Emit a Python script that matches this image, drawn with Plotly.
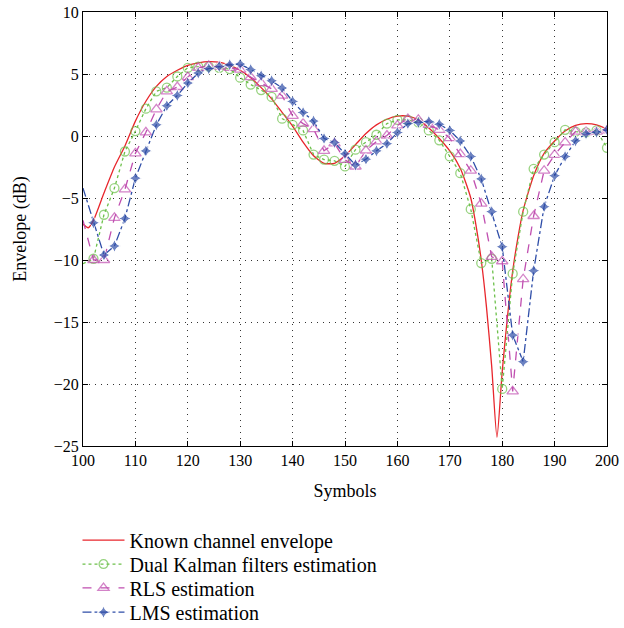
import plotly.graph_objects as go

# symbols where markers are drawn (every 2 symbols)
symbols = list(range(100, 201, 2))

# known channel envelope, denser near the deep fade
known_x = [100, 101, 102, 104, 106, 108, 110, 112, 114, 116, 118, 120, 122, 124, 126, 128,
           130, 132, 134, 136, 138, 140, 142, 144, 146, 148, 150, 152, 154, 156, 158, 160,
           162, 164, 166, 168, 170, 172, 174, 175, 176, 177, 178, 179, 180, 181, 182, 183,
           184, 186, 188, 190, 192, 194, 196, 198, 200]
known_env = [-7.1, -7.4, -6.8, -4.6, -2.5, -0.8, 1.2, 2.8, 4.0, 4.8, 5.3, 5.7, 5.9, 6.0, 5.95, 5.7,
             5.3, 4.7, 3.9, 3.0, 1.9, 0.8, -0.5, -1.6, -2.2, -2.2, -1.6, -0.7, 0.2, 0.9, 1.35, 1.6,
             1.6, 1.3, 0.65, -0.2, -1.2, -2.6, -5.0, -7.2, -10.0, -13.8, -18.6, -24.3, -19.0, -14.6, -10.9, -8.2,
             -6.0, -3.2, -1.4, -0.4, 0.4, 0.85, 1.0, 0.9, 0.55]

kalman_est = [-10.3, -9.9, -6.35, -4.2, -1.25, 0.4, 2.2, 3.6, 3.9, 4.8, 5.5, 5.6, 5.6, 5.5, 5.4, 4.7,
              4.15, 3.7, 3.15, 1.4, 0.9, 0.45, -1.5, -1.9, -2.0, -2.45, -1.1, -0.5, 0.1, 1.0, 1.3, 1.3,
              1.1, 0.45, -0.35, -1.65, -3.0, -5.9, -10.25, -9.9, -20.4, -11.1, -6.1, -2.65, -1.5, -0.5, 0.5, 0.35,
              0.3, 0.45, -0.95]

rls_est = [-6.8, -10.0, -10.0, -6.6, -4.3, -1.4, 0.3, 2.15, 3.6, 3.95, 4.75, 5.5, 5.65, 5.6, 5.5, 5.35,
           4.75, 4.27, 3.8, 3.25, 1.63, 1.0, 0.56, -1.2, -0.6, -1.92, -2.46, -1.17, -0.44, 0.04, 0.85, 1.37,
           1.3, 0.9, 0.5, -0.17, -1.46, -2.8, -5.45, -9.75, -10.1, -20.6, -11.55, -6.45, -2.8, -1.52, -0.52, 0.36,
           0.31, 0.36, 0.45]

lms_est = [-4.2, -7.0, -9.6, -8.87, -6.65, -3.4, -1.2, 0.9, 2.44, 3.27, 4.27, 5.08, 5.43, 5.6, 5.75, 5.8,
           5.35, 4.86, 4.45, 3.87, 2.79, 1.9, 1.2, -0.2, -0.52, -1.44, -2.33, -1.87, -1.2, -0.62, 0.28, 1.0,
           1.1, 1.17, 0.95, 0.45, -0.4, -1.65, -3.46, -6.1, -8.93, -16.06, -18.2, -10.86, -5.7, -3.2, -1.65, -0.39,
           0.18, 0.31, 0.5]

y_ticks = [-25, -20, -15, -10, -5, 0, 5, 10]
x_ticks = list(range(100, 201, 10))

FONT = "Liberation Serif"


def marker_sizes(size):
    # no marker on the left axis edge
    return [0] + [size] * (len(symbols) - 1)


fig = go.Figure()

fig.add_trace(go.Scatter(
    x=known_x, y=known_env, mode="lines", name="Known channel envelope", legend="legend",
    line=dict(color="#e8262c", width=1.3, shape="spline", smoothing=0.6)
))
fig.add_trace(go.Scatter(
    x=symbols, y=kalman_est, mode="lines+markers", name="Dual Kalman filters estimation", legend="legend2",
    line=dict(color="#6cc04a", width=1.3, dash="dot"),
    marker=dict(symbol="circle-open", size=marker_sizes(9), color="#6cc04a", line=dict(width=1.3))
))
fig.add_trace(go.Scatter(
    x=symbols, y=rls_est, mode="lines+markers", name="RLS estimation", legend="legend3",
    line=dict(color="#c04fb0", width=1.3, dash="dash"),
    marker=dict(symbol="triangle-up-open", size=marker_sizes(10), color="#c04fb0", line=dict(width=1.3))
))
fig.add_trace(go.Scatter(
    x=symbols, y=lms_est, mode="lines+markers", name="LMS estimation", legend="legend4",
    line=dict(color="#2f4ea8", width=1.3, dash="dashdot"),
    marker=dict(symbol="star-diamond", size=marker_sizes(9), color="#2f4ea8")
))

# one legend box per entry so the rows sit where the reference has them
leg = dict(x=-0.0105, xanchor="left", yanchor="middle",
           font=dict(family=FONT, size=20), itemwidth=42, bgcolor="rgba(0,0,0,0)")

fig.update_layout(
    width=624, height=628,
    margin=dict(l=83, r=17, t=12, b=182, autoexpand=False),
    plot_bgcolor="white",
    paper_bgcolor="white",
    font=dict(family=FONT, size=16, color="black"),
    showlegend=True,
    legend=dict(leg, y=-0.217),
    legend2=dict(leg, y=-0.272),
    legend3=dict(leg, y=-0.327),
    legend4=dict(leg, y=-0.383),
)

fig.update_xaxes(
    range=[100, 200], tickvals=x_ticks, automargin=False,
    title=dict(text="Symbols", font=dict(size=18), standoff=16),
    showline=True, linecolor="black", linewidth=1, mirror="ticks",
    ticks="inside", ticklen=5, tickcolor="black",
    showgrid=True, gridcolor="#333", griddash="1px,5px", gridwidth=1,
    zeroline=False
)
fig.update_yaxes(
    range=[-25, 10], tickvals=y_ticks, automargin=False,
    title=dict(text="Envelope (dB)", font=dict(size=18), standoff=22),
    showline=True, linecolor="black", linewidth=1, mirror="ticks",
    ticks="inside", ticklen=5, tickcolor="black",
    showgrid=True, gridcolor="#333", griddash="1px,5px", gridwidth=1,
    zeroline=False
)

# drop the browser's default body margin so the figure fills the window
fig.write_html("out.html", config={"displayModeBar": False},
               post_script="document.body.style.margin = '0';")
